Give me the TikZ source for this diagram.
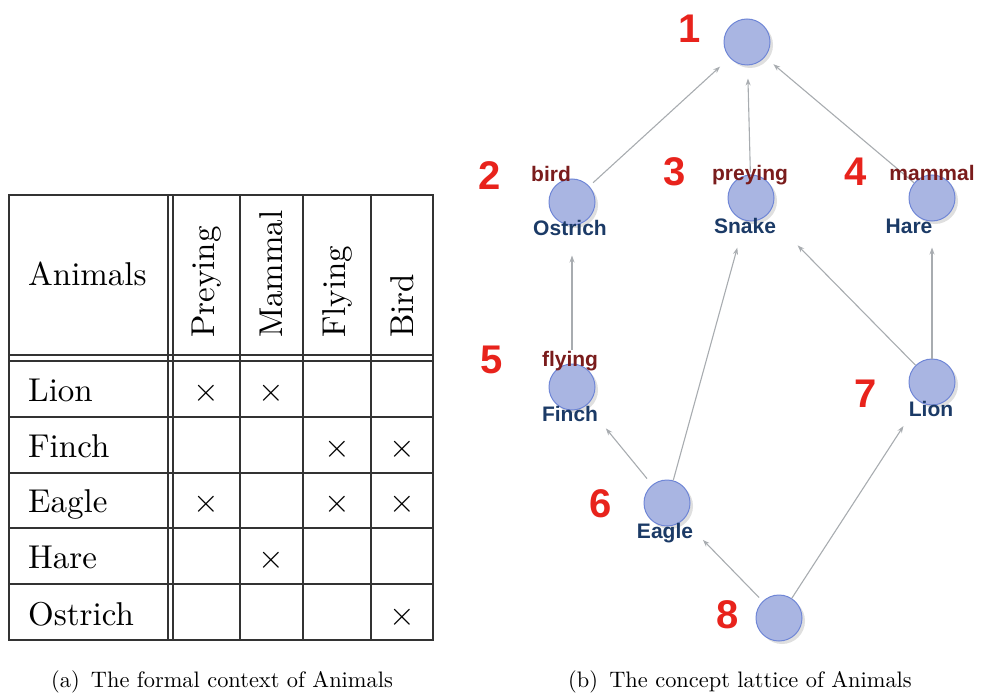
\documentclass[tikz,border=0pt]{standalone}
\usepackage{fontspec}
\usepackage{graphicx}
\usetikzlibrary{arrows.meta,shadows}
\newfontfamily\labfont{Liberation Sans}
\newcommand{\tbx}[1]{\scalebox{3.3}{\fontsize{10}{12}\selectfont #1}}
\newcommand{\cpx}[1]{\scalebox{2.24}{\fontsize{10}{12}\selectfont #1}}
\definecolor{nodefill}{HTML}{A9B5E2}
\definecolor{nodeborder}{HTML}{6F86D6}
\definecolor{numred}{HTML}{E8231C}
\definecolor{attrred}{HTML}{7A1C1C}
\definecolor{objblue}{HTML}{1B3A66}
\definecolor{edgegray}{HTML}{A8ACB0}
\tikzset{
  tline/.style={line width=1.4pt, draw=black!80},
  tabtext/.style={inner sep=0pt},
  hdrtext/.style={tabtext, rotate=90, anchor=west},
  crossmark/.style={inner sep=0pt, anchor=base},
  capt/.style={inner sep=0pt, anchor=base},
  lnode/.style={circle, minimum size=46pt, inner sep=0pt, fill=nodefill, draw=nodeborder, line width=1pt,
    drop shadow={opacity=0.25, shadow xshift=3pt, shadow yshift=-3pt}},
  num/.style={inner sep=0pt, anchor=base, text=numred, font=\labfont\bfseries\fontsize{40}{42}\selectfont},
  attr/.style={inner sep=0pt, anchor=base, text=attrred, font=\labfont\bfseries\fontsize{21}{23}\selectfont},
  obj/.style={inner sep=0pt, anchor=base, text=objblue, font=\labfont\bfseries\fontsize{21}{23}\selectfont},
  edge/.style={draw=edgegray, line width=1.1pt, -{Stealth[length=7pt,width=5pt]}}
}
\begin{document}
\begin{tikzpicture}[x=1pt,y=-1pt]
\useasboundingbox (0,0) rectangle (981,695);
% ---------- table ----------
\draw[tline] (9,195) rectangle (433,640);
\foreach \y in {355,361,417,473,528,584} \draw[tline] (9,\y) -- (433,\y);
\foreach \x in {168,173,240,303,371} \draw[tline] (\x,195) -- (\x,640);
\node[tabtext, anchor=base west] (hA) at (28,285) {\tbx{Animals}};
\node[hdrtext] (hP) at (206.5,338) {\tbx{Preying}};
\node[hdrtext] (hM) at (271.5,338) {\tbx{Mammal}};
\node[hdrtext] (hF) at (337,338) {\tbx{Flying}};
\node[hdrtext] (hB) at (402,338) {\tbx{Bird}};
\node[tabtext, anchor=base west] (rL) at (28,401) {\tbx{Lion}};
\node[tabtext, anchor=base west] (rF) at (28,457) {\tbx{Finch}};
\node[tabtext, anchor=base west] (rE) at (28,512) {\tbx{Eagle}};
\node[tabtext, anchor=base west] (rH) at (28,568) {\tbx{Hare}};
\node[tabtext, anchor=base west] (rO) at (28,625) {\tbx{Ostrich}};
\node[crossmark] (x1) at (206.5,401) {\tbx{$\times$}};
\node[crossmark] (x2) at (271.5,401) {\tbx{$\times$}};
\node[crossmark] (x3) at (337,457) {\tbx{$\times$}};
\node[crossmark] (x4) at (402,457) {\tbx{$\times$}};
\node[crossmark] (x5) at (206.5,512) {\tbx{$\times$}};
\node[crossmark] (x6) at (337,512) {\tbx{$\times$}};
\node[crossmark] (x7) at (402,512) {\tbx{$\times$}};
\node[crossmark] (x8) at (271.5,568) {\tbx{$\times$}};
\node[crossmark] (x9) at (402,625) {\tbx{$\times$}};
% ---------- captions ----------
\node[capt] (capa) at (222,687) {\cpx{(a)\, The formal context of Animals}};
\node[capt] (capb) at (740,687) {\cpx{(b)\, The concept lattice of Animals}};
% ---------- lattice ----------
\node[lnode] (c1) at (747,42) {};
\node[lnode] (c2) at (572,202) {};
\node[lnode] (c3) at (751,198) {};
\node[lnode] (c4) at (932,198) {};
\node[lnode] (c5) at (572,387) {};
\node[lnode] (c6) at (667,503) {};
\node[lnode] (c7) at (932,382) {};
\node[lnode] (c8) at (779,618) {};
\draw[edge, shorten <=5pt, shorten >=13pt] (c2) -- (c1);
\draw[edge, shorten <=2pt, shorten >=13pt] (c3) -- (c1);
\draw[edge, shorten >=11pt] (c4) -- (c1);
\draw[edge, shorten <=14pt, shorten >=30pt] (c5) -- (c2);
\draw[edge, shorten >=28pt] (c6) -- (c3);
\draw[edge, shorten >=43pt] (c7) -- (c3);
\draw[edge, shorten >=26pt] (c7) -- (c4);
\draw[edge, shorten <=8pt, shorten >=30pt] (c6) -- (c5);
\draw[edge, shorten <=5pt, shorten >=28pt] (c8) -- (c6);
\draw[edge, shorten >=29pt] (c8) -- (c7);
\node[num] (n1) at (690,43) {1};
\node[num] (n2) at (490,189) {2};
\node[num] (n3) at (674.5,185) {3};
\node[num] (n4) at (855.5,185) {4};
\node[num] (n5) at (491.5,373) {5};
\node[num] (n6) at (601,517) {6};
\node[num] (n7) at (866,407) {7};
\node[num] (n8) at (728,628) {8};
\node[attr] (a2) at (551,181) {bird};
\node[attr] (a3) at (750,180) {preying};
\node[attr] (a4) at (932,180) {mammal};
\node[attr] (a5) at (570,366) {flying};
\node[obj] (o2) at (570,235) {Ostrich};
\node[obj] (o3) at (745,233) {Snake};
\node[obj] (o4) at (909,233) {Hare};
\node[obj] (o5) at (570,421) {Finch};
\node[obj] (o7) at (931,416) {Lion};
\node[obj] (o6) at (665,538) {Eagle};
\end{tikzpicture}
\end{document}
